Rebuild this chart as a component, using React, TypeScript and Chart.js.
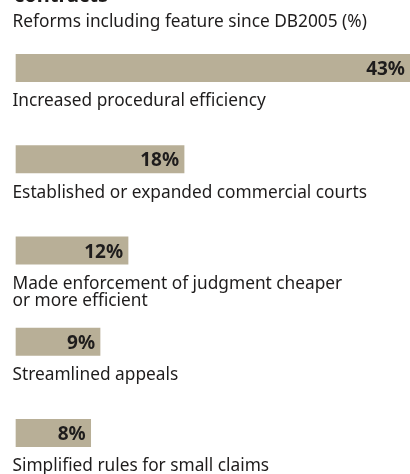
import React, { useEffect, useRef } from "react";
import { Chart, registerables } from "chart.js";

Chart.register(...registerables);

const titleText = "contracts";
const subtitleText = "Reforms including feature since DB2005 (%)";
const categories: string[][] = [
  ["Increased procedural efficiency"],
  ["Established or expanded commercial courts"],
  ["Made enforcement of judgment cheaper", "or more efficient"],
  ["Streamlined appeals"],
  ["Simplified rules for small claims"],
];
const values: number[] = [43, 18, 12, 9, 8];
const xMax = 42.2;

const FONT = "'Noto Sans', sans-serif";
const TEXT = "#1e1c1c";
const BAR = "#b8af97";

const labelPlugin = {
  id: "labelPlugin",
  afterDatasetsDraw(chart: any) {
    const ctx = chart.ctx;
    const area = chart.chartArea;
    const meta = chart.getDatasetMeta(0);
    ctx.save();
    // titles
    ctx.fillStyle = TEXT;
    ctx.textAlign = "left";
    ctx.textBaseline = "alphabetic";
    ctx.font = `bold 20px ${FONT}`;
    ctx.fillText(titleText, area.left - 2, 2);
    ctx.font = `17.3px ${FONT}`;
    ctx.fillText(subtitleText, area.left - 3.5, 26.7);

    meta.data.forEach((bar: any, i: number) => {
      const { x, y, height } = bar.getProps(["x", "y", "height"], true);
      // value label
      ctx.font = `bold 19px ${FONT}`;
      ctx.textAlign = "right";
      ctx.textBaseline = "alphabetic";
      const right = Math.min(x, chart.width) - 5;
      ctx.fillText(values[i] + "%", right, y + 7);
      // category label below
      ctx.font = `17.3px ${FONT}`;
      ctx.textAlign = "left";
      const lines = categories[i];
      lines.forEach((ln, j) => {
        ctx.fillText(ln, area.left - 3.5, y + height / 2 + 24.5 + j * 17);
      });
    });
    ctx.restore();
  },
};

export default function App() {
  const ref = useRef<HTMLCanvasElement | null>(null);
  useEffect(() => {
    if (!ref.current) return;
    const chart = new Chart(ref.current, {
      type: "bar",
      data: {
        labels: categories.map((c) => c.join(" ")),
        datasets: [
          {
            data: values,
            backgroundColor: BAR,
            borderWidth: 0,
            barThickness: 27.5,
            clip: false as any,
          },
        ],
      },
      options: {
        indexAxis: "y",
        animation: false,
        responsive: false,
        maintainAspectRatio: false,
        layout: { padding: { top: 68, bottom: 41, left: 16, right: 0 } },
        plugins: {
          legend: { display: false },
          tooltip: { enabled: false },
          title: { display: false },
        },
        scales: {
          x: { display: false, min: 0, max: xMax },
          y: { display: false, offset: false },
        },
      },
      plugins: [labelPlugin],
    });
    return () => chart.destroy();
  }, []);
  return (
    <div style={{ position: "fixed", left: 0, top: 0, width: 410, height: 474, background: "#fff" }}>
      <canvas ref={ref} width={410} height={474} style={{ width: 410, height: 474, display: "block" }} />
    </div>
  );
}
